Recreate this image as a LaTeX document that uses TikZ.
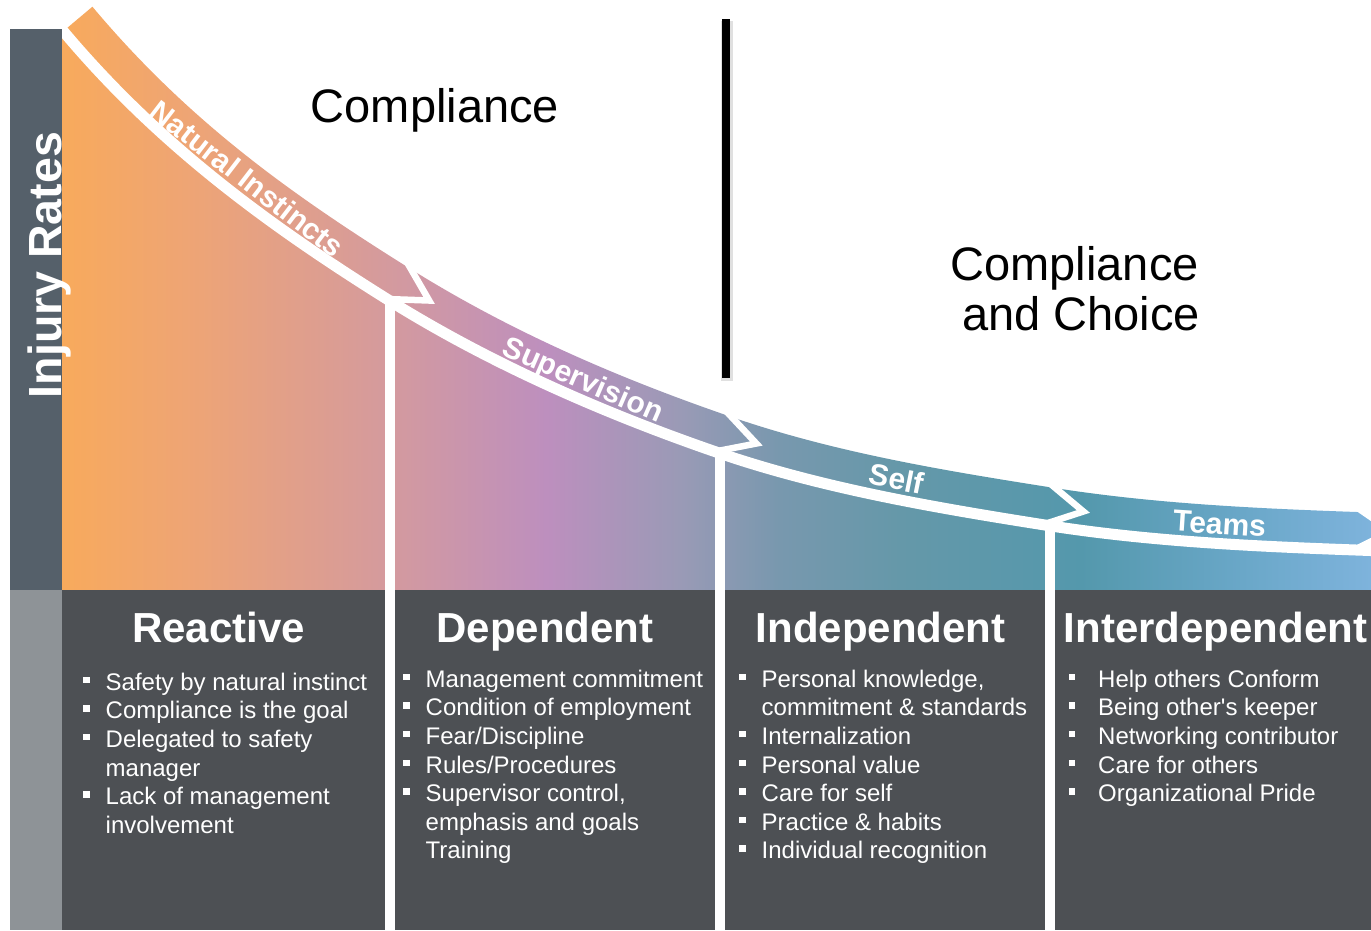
\documentclass[tikz,border=0pt]{standalone}
\usepackage{fontspec}
\setmainfont{Liberation Sans}[Ligatures=TeXOff]
\usetikzlibrary{calc}
\definecolor{bar_slate}{HTML}{55606A}
\definecolor{bar_grey}{HTML}{8E9397}
\definecolor{panel_dark}{HTML}{4D5054}
\definecolor{grA}{HTML}{F8AA5C}
\definecolor{grB}{HTML}{EDA477}
\definecolor{grC}{HTML}{D49A9E}
\definecolor{grD}{HTML}{BD8FBE}
\definecolor{grE}{HTML}{9A9AB6}
\definecolor{grF}{HTML}{7898AE}
\definecolor{grG}{HTML}{6598A9}
\definecolor{grH}{HTML}{5498AC}
\definecolor{grI}{HTML}{68A6C6}
\definecolor{grJ}{HTML}{7EB3DC}
\pgfdeclarehorizontalshading{curveshade}{100bp}{color(0bp)=(grA);
  color(25bp)=(grA); color(30.3bp)=(grB); color(37.5bp)=(grC);
  color(43.5bp)=(grD); color(48.6bp)=(grE); color(52.4bp)=(grF);
  color(57bp)=(grG); color(63.9bp)=(grH); color(69.6bp)=(grI);
  color(75bp)=(grJ); color(100bp)=(grJ)}
\tikzstyle{lane}=[font=\fontsize{30}{36}\selectfont\bfseries,text=white,
  sloped,inner sep=0pt,text height=22pt,text depth=0pt]
\tikzstyle{stage}=[font=\fontsize{42}{50}\selectfont\bfseries,text=white,
  anchor=base,inner sep=0pt]
\tikzstyle{points}=[font=\fontsize{24}{28.6}\selectfont,text=white,
  align=left,anchor=north west,inner sep=0pt]
\tikzstyle{heading}=[font=\fontsize{47}{56}\selectfont,anchor=base,inner sep=0pt]
\tikzstyle{cut}=[white,line width=6.5pt,line join=miter]
\tikzstyle{divider}=[white,line width=10pt]
\newcommand{\sq}[1][22.5pt]{\makebox[#1][l]{\rule[7pt]{6.5pt}{6.5pt}}}
\newcommand{\indt}[1][22.5pt]{\hspace*{#1}}

\begin{document}
\begin{tikzpicture}[x=1pt,y=-1pt]
            \clip (0,0) rectangle (1371,930);
            \shade[shading=curveshade] (62,590) -- (62,28) -- (67.1,28) -- (92.4,6.7)
              .. controls (188.8,121.6) and (291.4,194.5) .. (409.3,268.2)
              .. controls (510.2,331.3) and (617.2,377.6) .. (729.8,416.4)
              .. controls (834.8,452.6) and (943,470.4) .. (1052.7,487.7)
              .. controls (1158.4,504.4) and (1264.6,508.8) .. (1371,512.5)
              -- (1371,590) -- cycle;
            \begin{scope}[shift={(400,283)},rotate=-31]
              \draw[cut] (-5.2,-21.7) -- (34,0) -- (-5.2,21.7);
            \end{scope}
            \begin{scope}[shift={(724,433)},rotate=-18]
              \draw[cut] (-5.2,-21.7) -- (34,0) -- (-5.2,21.7);
            \end{scope}
            \begin{scope}[shift={(1050,505)},rotate=-11]
              \draw[cut] (-5.2,-21.7) -- (34,0) -- (-5.2,21.7);
            \end{scope}
            \fill[white] (1357.8,512) -- (1385,530.8) -- (1400,530.8) -- (1400,490) -- (1357.8,490) -- cycle;
            \fill[white] (1356.3,545.1) -- (1385,530.8) -- (1400,530.8) -- (1400,546) -- cycle;
            \draw[white,line width=11pt] (53.7,19.7) -- (63.3,31.2)
              .. controls (159.7,146.1) and (271.2,226.7) .. (389.1,300.4)
              .. controls (490,363.5) and (604.7,413.6) .. (717.3,452.4)
              .. controls (822.3,488.6) and (937.1,508) .. (1046.8,525.3)
              .. controls (1152.5,542) and (1263.4,546.8) .. (1370.3,550.5) -- (1390,551);
            \path (79,18) .. controls (175.4,132.9) and (282.1,209.3) .. (400,283)
                node[lane,pos=0.55] (natural) {Natural Instincts}
              .. controls (500.9,346.1) and (611.4,394.2) .. (724,433)
                node[lane,pos=0.58] (supervision) {Supervision}
              .. controls (829,469.2) and (940.3,487.7) .. (1050,505)
                node[lane,pos=0.535] (self) {Self}
              .. controls (1155.7,521.7) and (1264.1,526.3) .. (1371,530)
                node[lane,pos=0.53] (teams) {Teams};
            \fill[panel_dark] (62,590) rectangle (1371,930);
            \draw[divider] (390,300) -- (390,930);
            \draw[divider] (720,453) -- (720,930);
            \draw[divider] (1050,525) -- (1050,930);
            \fill[bar_slate] (10,29) rectangle (62,590);
            \fill[bar_grey] (10,590) rectangle (62,930);
            \draw[black!12,line width=12pt] (727,21) -- (727,381);
            \draw[line width=8pt] (726,19) -- (726,378);
            \node[rotate=90,anchor=base,font=\fontsize{46.5}{55}\selectfont\bfseries,text=white] (injury) at (61,265) {Injury Rates};
            \node[heading] (compliance) at (435,122) {Compliance};
            \node[heading,anchor=base east] (choice) at (1199,280) {Compliance};
            \node[heading,anchor=base east] (choicetwo) at (1200,330) {and Choice};
            \node[stage] (reactive) at (218.5,642) {Reactive};
            \node[stage] (dependent) at (545,642) {Dependent};
            \node[stage] (independent) at (880.5,642) {Independent};
            \node[stage] (interdependent) at (1215.5,642) {Interdependent};
            \node[points] (reactivelist) at (83,670) {\strut\sq Safety by natural instinct\\
              \sq Compliance is the goal\\ \sq Delegated to safety\\ \indt manager\\
              \sq Lack of management\\ \indt involvement};
            \node[points] (dependentlist) at (403,667) {\strut\sq Management commitment\\
              \sq Condition of employment\\ \sq Fear/Discipline\\ \sq Rules/Procedures\\
              \sq Supervisor control,\\ \indt emphasis and goals\\ \indt Training};
            \node[points] (independentlist) at (739,667) {\strut\sq Personal knowledge,\\
              \indt commitment \& standards\\ \sq Internalization\\ \sq Personal value\\
              \sq Care for self\\ \sq Practice \& habits\\ \sq Individual recognition};
            \node[points] (interdependentlist) at (1068.5,667) {\strut\sq[29.5pt]Help others Conform\\
              \sq[29.5pt]Being other's keeper\\ \sq[29.5pt]Networking contributor\\
              \sq[29.5pt]Care for others\\ \sq[29.5pt]Organizational Pride};
    \end{tikzpicture}
\end{document}
